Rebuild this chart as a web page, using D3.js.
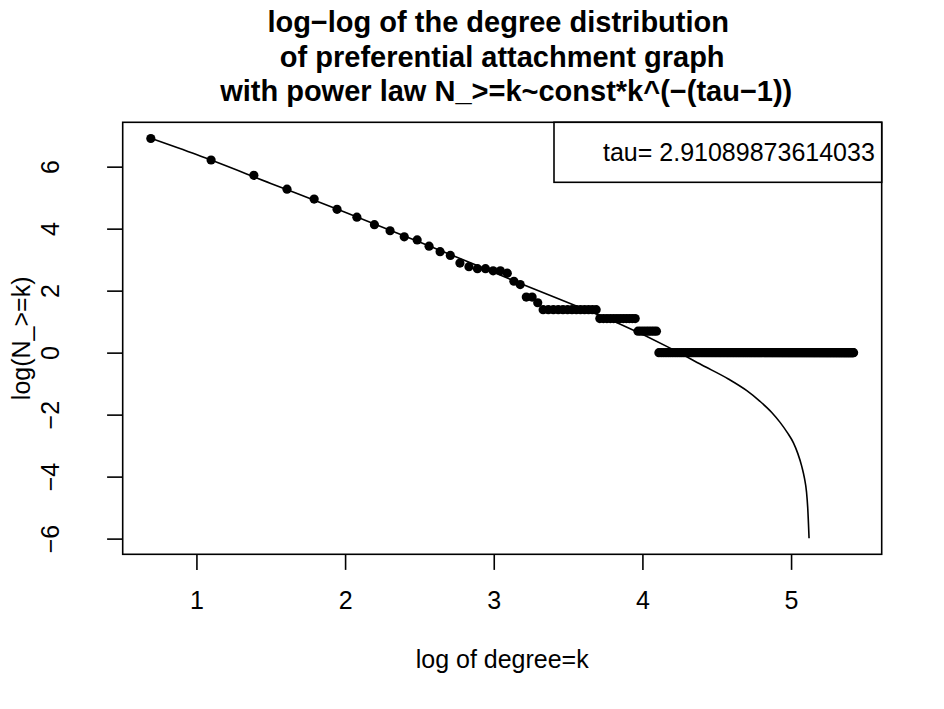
<!DOCTYPE html>
<html>
<head>
<meta charset="utf-8">
<script src="https://cdn.jsdelivr.net/npm/d3@7"></script>
<style>
body { margin: 0; background: #fff; }
text { font-family: "Liberation Sans", Arial, sans-serif; fill: #000; }
</style>
</head>
<body>
<script>
// Degree distribution log-log plot

const w = 944; // Width of Space
const h = 709; // Height of Space
const margin = {top: 122.3, right: 62.3, bottom: 154.7, left: 122.7};

// N_>=k, number of nodes with degree >= k, for k = 2, 3, 4, ...
const countAtLeast = [
    1000, 500, 305, 195, 142, 102, 79, 62, 51, 42,   // k = 2..11
    38, 31, 26, 23, 18, 16, 15, 15, 14, 14,          // k = 12..21
    13, 10, 9, 6, 6, 5, 4, 4, 4, 4,                  // k = 22..31
    4, 4, 4, 4, 4, 4, 4, 4, 4, 3,                    // k = 32..41
    3, 3, 3, 3, 3, 3, 3, 3, 3, 3,                    // k = 42..51
    3, 2, 2, 2, 2, 2, 2, 2, 2, 1,                    // k = 52..61
    1, 1, 1, 1, 1, 1, 1, 1, 1, 1, 1, 1, 1, 1, 1,     // k = 62..76
    1, 1, 1, 1, 1, 1, 1, 1, 1, 1, 1, 1, 1, 1, 1,
    1, 1, 1, 1, 1, 1, 1, 1, 1, 1, 1, 1, 1, 1, 1,
    1, 1, 1, 1, 1, 1, 1, 1, 1, 1, 1, 1, 1, 1, 1,
    1, 1, 1, 1, 1, 1, 1, 1, 1, 1, 1, 1, 1, 1, 1,
    1, 1, 1, 1, 1, 1, 1, 1, 1, 1, 1, 1, 1, 1, 1,
    1, 1, 1, 1, 1, 1, 1, 1, 1, 1, 1, 1, 1, 1, 1,
    1, 1, 1, 1, 1, 1, 1, 1, 1, 1, 1, 1, 1, 1, 1,
    1, 1, 1, 1, 1, 1, 1, 1, 1, 1, 1, 1, 1, 1, 1,
    1, 1, 1, 1, 1, 1, 1, 1, 1, 1, 1, 1, 1, 1, 1,
    1, 1, 1, 1, 1, 1, 1, 1, 1, 1, 1, 1, 1, 1, 1      // k = 212..226
];
const degrees = d3.range(2, 2 + countAtLeast.length);

// Fitted curve (log k, log N)
const fitLogK = [0.693, 1.0, 1.5, 2.0, 2.5, 2.905, 3.175, 3.564, 3.826, 4.207,
                 4.40, 4.578, 4.70, 4.791, 4.87, 4.926, 4.975, 5.016, 5.045,
                 5.072, 5.09, 5.104, 5.112, 5.121];
const fitLogN = [6.915, 6.39, 5.46, 4.53, 3.57, 2.78, 2.24, 1.49, 0.97, 0.097,
                 -0.40, -0.85, -1.22, -1.57, -1.93, -2.25, -2.58, -2.91, -3.25,
                 -3.67, -4.05, -4.50, -5.0, -5.99];

const xTicks = [1, 2, 3, 4, 5];
const yTicks = [-6, -4, -2, 0, 2, 4, 6];
const tauLabel = "tau= 2.91089873614033";
const titleLines = ["log\u2212log of the degree distribution ",
                    " of preferential attachment graph ",
                    " with power law N_>=k~const*k^(\u2212(tau\u22121))"];

const points = degrees.map((k, i) => [Math.log(k), Math.log(countAtLeast[i])]);
const fit = fitLogK.map((x, i) => [x, fitLogN[i]]);

// R style 4% padding on the ranges
function padded(ext) {
    const r = ext[1] - ext[0];
    return [ext[0] - 0.04 * r, ext[1] + 0.04 * r];
}
const xExt = d3.extent(points, d => d[0]);
const yExt = d3.extent(points.concat(fit), d => d[1]);

const xScale = d3.scaleLinear()
                 .domain(padded(xExt))
                 .range([margin.left, w - margin.right]);
const yScale = d3.scaleLinear()
                 .domain(padded(yExt))
                 .range([h - margin.bottom, margin.top]);

const svg = d3.select("body")
              .append("svg")
              .attr("width", w)
              .attr("height", h);

// Fitted line
svg.append("path")
   .datum(fit)
   .attr("fill", "none")
   .attr("stroke", "#000")
   .attr("stroke-width", 1.6)
   .attr("d", d3.line()
                .x(d => xScale(d[0]))
                .y(d => yScale(d[1]))
                .curve(d3.curveMonotoneX));

// Points
svg.selectAll("circle")
   .data(points)
   .enter()
   .append("circle")
   .attr("cx", d => xScale(d[0]))
   .attr("cy", d => yScale(d[1]))
   .attr("r", 4.6)
   .attr("fill", "#000");

// Bottom Axis
const bottomAxis = d3.axisBottom(xScale)
                     .tickValues(xTicks)
                     .tickSize(15.6)
                     .tickFormat(d3.format("d"));
const gx = svg.append("g")
              .attr("transform", "translate(0," + (h - margin.bottom) + ")")
              .call(bottomAxis);
gx.select(".domain").remove();
gx.selectAll("line").attr("stroke-width", 1.6);
gx.selectAll("text")
  .attr("y", 54.7)
  .attr("dy", null)
  .style("font-size", "25px");

// Left Axis
const leftAxis = d3.axisLeft(yScale)
                   .tickValues(yTicks)
                   .tickSize(15.6)
                   .tickFormat(d3.format("d"));
const gy = svg.append("g")
              .attr("transform", "translate(" + margin.left + ",0)")
              .call(leftAxis);
gy.select(".domain").remove();
gy.selectAll("line").attr("stroke-width", 1.6);
gy.selectAll("text")
  .attr("x", 0)
  .attr("y", -64)
  .attr("dy", null)
  .attr("transform", "rotate(-90)")
  .style("text-anchor", "middle")
  .style("font-size", "25px");

// Plot box
svg.append("rect")
   .attr("x", margin.left)
   .attr("y", margin.top)
   .attr("width", w - margin.left - margin.right)
   .attr("height", h - margin.top - margin.bottom)
   .attr("fill", "none")
   .attr("stroke", "#000")
   .attr("stroke-width", 1.6);

// Legend
svg.append("rect")
   .attr("x", 554)
   .attr("y", margin.top)
   .attr("width", w - margin.right - 554)
   .attr("height", 60)
   .attr("fill", "#fff")
   .attr("stroke", "#000")
   .attr("stroke-width", 1.6);
svg.append("text")
   .attr("x", 603)
   .attr("y", 161)
   .style("font-size", "25px")
   .text(tauLabel);

// Axis titles
const cx = (margin.left + w - margin.right) / 2;
const cy = (margin.top + h - margin.bottom) / 2;
svg.append("text")
   .attr("x", cx)
   .attr("y", 668)
   .style("text-anchor", "middle")
   .style("font-size", "25px")
   .text("log of degree=k");
svg.append("text")
   .attr("transform", "translate(30," + cy + ") rotate(-90)")
   .style("text-anchor", "middle")
   .style("font-size", "25px")
   .text("log(N_>=k)");

// Title
svg.selectAll(".title")
   .data(titleLines)
   .enter()
   .append("text")
   .attr("class", "title")
   .attr("x", cx)
   .attr("y", (d, i) => 32 + i * 34.7)
   .style("text-anchor", "middle")
   .style("white-space", "pre")
   .style("font-size", "29px")
   .style("font-weight", "bold")
   .text(d => d);
</script>
</body>
</html>
